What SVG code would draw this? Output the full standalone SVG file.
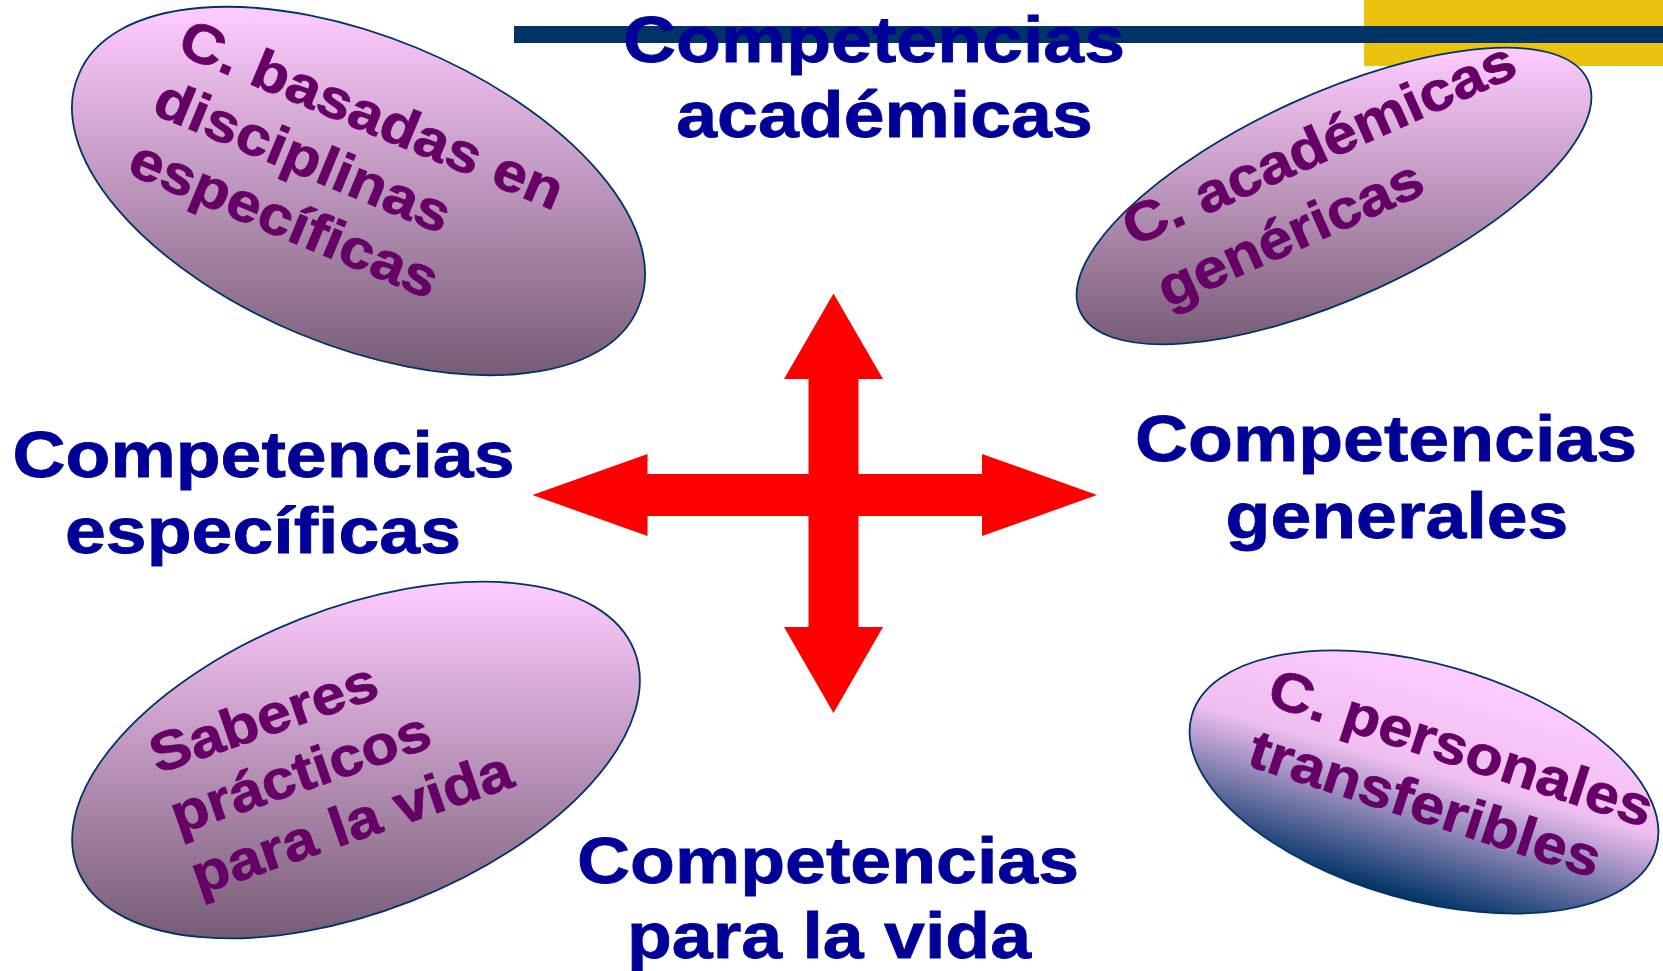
<svg xmlns="http://www.w3.org/2000/svg" width="1663" height="971" viewBox="0 0 1663 971">
<defs>
<linearGradient id="gPink" x1="0" y1="0" x2="0" y2="1">
<stop offset="0" stop-color="#FFCCFF"/>
<stop offset="1" stop-color="#775C76"/>
</linearGradient>
<linearGradient id="gNavy" x1="0" y1="0" x2="0" y2="1">
<stop offset="0" stop-color="#FFCCFF"/>
<stop offset="0.45" stop-color="#EDBEEE"/>
<stop offset="1" stop-color="#003366"/>
</linearGradient>
<style>
.ell{stroke:#003366;stroke-width:1.8}
.et{font-family:"Liberation Sans",Arial,sans-serif;font-weight:bold;font-size:55px;fill:#660066;stroke:#660066;stroke-width:0.8}
.bt{font-family:"Liberation Sans",Arial,sans-serif;font-weight:bold;font-size:65px;fill:#000099;stroke:#000099;stroke-width:0.8;text-anchor:middle}
.arrow{fill:#FF0000}
</style>
</defs>
<rect width="1663" height="971" fill="#FFFFFF"/>
<g id="header">
<rect x="1364" y="0" width="299" height="66" fill="#EBC30E"/>
<rect x="514" y="26" width="1149" height="17" fill="#003366"/>
</g>
<g id="connectors">
<polygon class="arrow" points="833.5,293.5 883,379 858.5,379 858.5,474 982,474 982,454 1097,495 982,536 982,516 858.5,516 858.5,627 883,627 833.5,713 784,627 808.5,627 808.5,516 647.5,516 647.5,536 532.4,495 647.5,454 647.5,474 808.5,474 808.5,379 784,379"/>
</g>
<g id="node-basadas">
<path class="ell" fill="url(#gPink)" d="M78.6,75 A303,153 22.5 1 1 638.4,307 A303,153 22.5 1 1 78.6,75 Z"/>
<g transform="translate(175.2,53) rotate(22.6) scale(1.11,1)">
<text class="et" x="0" y="0">C. basadas en</text>
<text class="et" x="0" y="65">disciplinas</text>
<text class="et" x="0" y="130">específicas</text>
</g>
</g>
<g id="node-genericas">
<path class="ell" fill="url(#gPink)" d="M1080.1,311.7 A279,102 -24.5 1 1 1587.9,80.3 A279,102 -24.5 1 1 1080.1,311.7 Z"/>
<g transform="translate(1132.9,247.1) rotate(-24) scale(1.11,1)">
<text class="et" x="0" y="0">C. académicas</text>
<text class="et" x="6" y="70">genéricas</text>
</g>
</g>
<g id="node-saberes">
<path class="ell" fill="url(#gPink)" d="M77.6,869.1 A299,151.5 -21.4 1 1 634.4,650.9 A299,151.5 -21.4 1 1 77.6,869.1 Z"/>
<g transform="translate(157.2,774) rotate(-19) scale(1.11,1)">
<text class="et" x="0" y="0">Saberes</text>
<text class="et" x="0" y="64">prácticos</text>
<text class="et" x="0" y="128">para la vida</text>
</g>
</g>
<g id="node-personales">
<ellipse class="ell" fill="url(#gNavy)" cx="0" cy="0" rx="241.5" ry="118" transform="translate(1424,782) rotate(16)"/>
<g transform="translate(1265,704.1) rotate(18) scale(1.11,1)">
<text class="et" x="0" y="0">C. personales</text>
<text class="et" x="0" y="64">transferibles</text>
</g>
</g>
<g id="label-academicas">
<text class="bt" transform="translate(874,61.7) scale(1.13,1)">Competencias</text>
<text class="bt" transform="translate(884.5,136.7) scale(1.13,1)">académicas</text>
</g>
<g id="label-especificas">
<text class="bt" transform="translate(263.5,476.7) scale(1.13,1)">Competencias</text>
<text class="bt" transform="translate(263,553) scale(1.13,1)">específicas</text>
</g>
<g id="label-generales">
<text class="bt" transform="translate(1386,460.7) scale(1.13,1)">Competencias</text>
<text class="bt" transform="translate(1397,537.7) scale(1.13,1)">generales</text>
</g>
<g id="label-vida">
<text class="bt" transform="translate(828,882.7) scale(1.13,1)">Competencias</text>
<text class="bt" transform="translate(829,957.7) scale(1.13,1)">para la vida</text>
</g>
</svg>
